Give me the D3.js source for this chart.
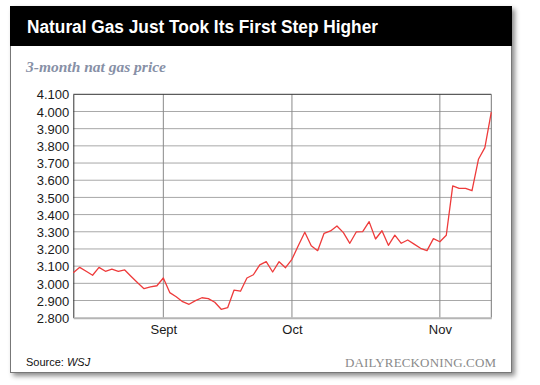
<html>
<head>
<script src="https://cdn.jsdelivr.net/npm/d3@7"></script>
<style>
    body {
        margin: 0;
        background: white;
        font-family: "Liberation Sans", Helvetica, Arial, sans-serif;
    }
</style>
</head>
<body>
<svg id="GasChart"></svg>
<script>
    // trading day index (0 = mid August) and settle price
    let days = d3.range(0, 66)
    let prices = [
        3.062, 3.093, 3.070, 3.047, 3.093, 3.070, 3.082, 3.070, 3.078, 3.040,
        3.003, 2.969, 2.979, 2.986, 3.031, 2.946, 2.922, 2.893, 2.878, 2.899,
        2.916, 2.911, 2.890, 2.849, 2.858, 2.961, 2.954, 3.031, 3.050, 3.107,
        3.126, 3.066, 3.126, 3.091, 3.140, 3.220, 3.297, 3.219, 3.190, 3.291,
        3.305, 3.334, 3.295, 3.233, 3.299, 3.301, 3.359, 3.258, 3.306, 3.221,
        3.280, 3.233, 3.252, 3.228, 3.204, 3.190, 3.260, 3.242, 3.280, 3.567,
        3.553, 3.553, 3.539, 3.722, 3.790, 3.996
    ]
    let monthLabels = ["Sept", "Oct", "Nov"]
    let monthDays = [14, 34, 57]
    let priceTicks = d3.range(28, 42).map(d => d / 10)

    function getChartConfig() {
        let width = 540
        let height = 385
        let margin = { top: 94.3, bottom: 67.3, left: 73.3, right: 48.7 }
        let bodyWidth = width - margin.left - margin.right
        let bodyHeight = height - margin.top - margin.bottom
        let container = d3.select("#GasChart")
            .attr("width", width)
            .attr("height", height)
        return { width, height, margin, bodyWidth, bodyHeight, container }
    }

    function getChartScales(config) {
        let { bodyWidth, bodyHeight } = config
        let xScale = d3.scaleLinear()
            .domain([0, 65])
            .range([0, bodyWidth])
        let yScale = d3.scaleLinear()
            .domain([2.8, 4.1])
            .range([bodyHeight, 0])
        return { xScale, yScale }
    }

    function drawFrame(config) {
        let { container } = config
        let defs = container.append("defs")
        let f = defs.append("filter").attr("id", "shadow")
            .attr("x", "-5%").attr("y", "-5%").attr("width", "110%").attr("height", "110%")
        f.append("feDropShadow")
            .attr("dx", 3).attr("dy", 3).attr("stdDeviation", 2.5)
            .attr("flood-color", "#000").attr("flood-opacity", 0.45)

        container.append("rect")
            .attr("x", 10.5).attr("y", 6.5)
            .attr("width", 501).attr("height", 366)
            .attr("fill", "white")
            .attr("stroke", "#777")
            .attr("filter", "url(#shadow)")
        container.append("rect")
            .attr("x", 10).attr("y", 6)
            .attr("width", 502).attr("height", 40)
            .attr("fill", "#000")

        container.append("text")
            .attr("x", 27).attr("y", 32.5)
            .attr("fill", "white")
            .attr("textLength", 351)
            .attr("lengthAdjust", "spacingAndGlyphs")
            .style("font-size", "18px")
            .style("font-weight", "bold")
            .text("Natural Gas Just Took Its First Step Higher")

        container.append("text")
            .attr("x", 26).attr("y", 72)
            .attr("fill", "#8790a6")
            .style("font-family", "'Liberation Serif', 'DejaVu Serif', serif")
            .style("font-size", "15.5px")
            .style("font-style", "italic")
            .style("font-weight", "bold")
            .text("3-month nat gas price")

        let source = container.append("text")
            .attr("x", 26).attr("y", 366)
            .attr("fill", "#111")
            .style("font-size", "11px")
        source.append("tspan").text("Source: ")
        source.append("tspan").style("font-style", "italic").text("WSJ")

        container.append("text")
            .attr("x", 496).attr("y", 366.5)
            .attr("text-anchor", "end")
            .attr("fill", "#8a8a8a")
            .attr("textLength", 151)
            .style("font-family", "'Liberation Serif', 'DejaVu Serif', serif")
            .style("font-size", "13px")
            .text("DAILYRECKONING.COM")
    }

    function drawAxes(scales, config) {
        let { xScale, yScale } = scales
        let { container, margin, bodyWidth, bodyHeight } = config
        let body = container.append("g")
            .attr("transform", `translate(${margin.left},${margin.top})`)

        // horizontal grid
        body.append("g")
            .selectAll("line")
            .data(priceTicks.slice(1, -1))
            .enter().append("line")
            .attr("x1", 0).attr("x2", bodyWidth)
            .attr("y1", d => yScale(d)).attr("y2", d => yScale(d))
            .attr("stroke", "#a8a8a8")
            .attr("stroke-width", 1)

        // month lines
        body.append("g")
            .selectAll("line")
            .data(monthDays)
            .enter().append("line")
            .attr("x1", d => xScale(d)).attr("x2", d => xScale(d))
            .attr("y1", 0).attr("y2", bodyHeight)
            .attr("stroke", "#8a8a8a")
            .attr("stroke-width", 1)

        // frame of the plot
        body.append("line").attr("x1", 0).attr("x2", bodyWidth).attr("y1", 0).attr("y2", 0)
            .attr("stroke", "#333")
        body.append("line").attr("x1", bodyWidth).attr("x2", bodyWidth).attr("y1", 0).attr("y2", bodyHeight)
            .attr("stroke", "#777")

        let axisY = d3.axisLeft(yScale)
            .tickValues(priceTicks)
            .tickFormat(d3.format(".3f"))
            .tickSize(0)
            .tickPadding(4)
        let gy = body.append("g").call(axisY)
        gy.select(".domain").attr("stroke", "#333")
        gy.selectAll("text")
            .attr("fill", "#1a1a1a")
            .style("font-family", "'Liberation Sans', Helvetica, Arial, sans-serif")
            .style("font-size", "13px")
            .attr("dy", "0.36em")

        let axisX = d3.axisBottom(xScale)
            .tickValues(monthDays)
            .tickFormat((d, i) => monthLabels[i])
            .tickSize(0)
            .tickPadding(7)
        let gx = body.append("g")
            .attr("transform", `translate(0,${bodyHeight})`)
            .call(axisX)
        gx.select(".domain").attr("stroke", "#b5b5b5").attr("stroke-width", 2)
        gx.selectAll("text")
            .attr("fill", "#1a1a1a")
            .style("font-family", "'Liberation Sans', Helvetica, Arial, sans-serif")
            .style("font-size", "13px")

        return body
    }

    function drawLine(body, scales) {
        let { xScale, yScale } = scales
        let line = d3.line()
            .x((d, i) => xScale(days[i]))
            .y(d => yScale(d))
        body.append("path")
            .datum(prices)
            .attr("d", line)
            .attr("fill", "none")
            .attr("stroke", "#ee3b3b")
            .attr("stroke-width", 1.3)
            .attr("stroke-linejoin", "round")
    }

    let config = getChartConfig()
    let scales = getChartScales(config)
    drawFrame(config)
    let body = drawAxes(scales, config)
    drawLine(body, scales)
</script>
</body>
</html>
